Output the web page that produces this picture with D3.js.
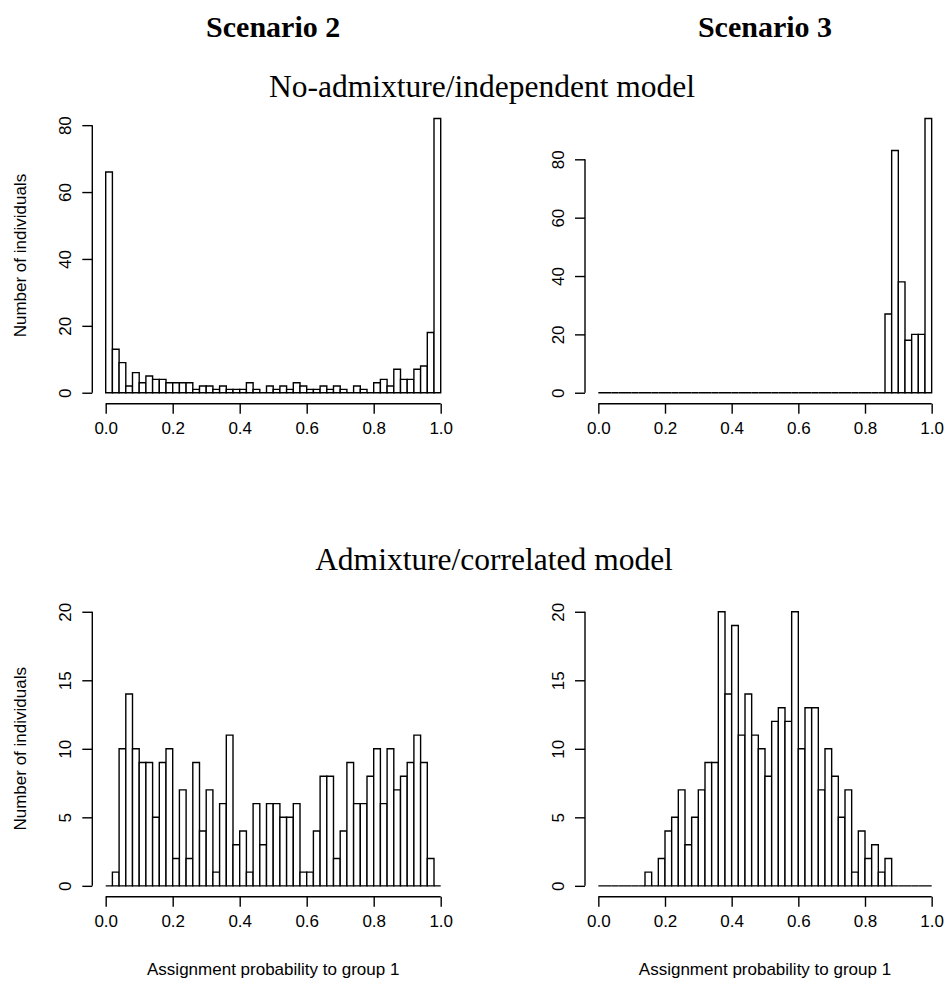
<!DOCTYPE html>
<html>
<head>
  <meta charset="UTF-8">
  <style>
    body { margin: 0; background: #fff; }
    svg { display: block; }
  </style>
</head>
<body>
<svg></svg>
<script src="https://d3js.org/d3.v7.min.js"></script>
<script>

let width = 948, height = 985;

// histogram counts, 50 bins of width 0.02 over [0, 1]
const s2_noadmix = [66,13,9,2,6,3,5,4,4,3, 3,3,3,1,2,2,1,2,1,1, 1,3,1,0,2,1,2,1,3,2,
                    1,1,2,1,2,1,0,2,1,0, 3,4,2,7,4,4,7,8,18,82];
const s3_noadmix = [0,0,0,0,0,0,0,0,0,0, 0,0,0,0,0,0,0,0,0,0, 0,0,0,0,0,0,0,0,0,0,
                    0,0,0,0,0,0,0,0,0,0, 0,0,0,27,83,38,18,20,20,94];
const s2_admix   = [0,1,10,14,10,9,9,5,9,10, 2,7,2,9,4,7,1,6,11,3, 4,1,6,3,6,6,5,5,6,1,
                    1,4,8,8,2,4,9,6,6,8, 10,6,10,7,8,9,11,9,2,0];
const s3_admix   = [0,0,0,0,0,0,0,1,0,2, 4,5,7,3,5,7,9,9,20,14, 19,11,14,11,10,8,12,13,12,20,
                    10,13,13,7,10,8,5,7,1,4, 2,3,1,2,0,0,0,0,0,0];

const xTicks = [0, 0.2, 0.4, 0.6, 0.8, 1.0];
const yTicksTop = [0, 20, 40, 60, 80];
const yTicksBottom = [0, 5, 10, 15, 20];

const colTitles = ["Scenario 2", "Scenario 3"];
const rowTitles = ["No-admixture/independent model", "Admixture/correlated model"];
const yLabel = "Number of individuals";
const xLabel = "Assignment probability to group 1";

const binWidth = 0.02;

let svg = d3.select("svg")
    .attr("width", width)
    .attr("height", height)
    .attr("viewBox", "0 0 " + width + " " + height);

const cols = [[92.3, 454.1], [585, 945]];
const rows = [[107.5, 403.7], [600.8, 896.8]];

const panels = [
  { col: 0, row: 0, counts: s2_noadmix, ymax: d3.max(s2_noadmix), ticks: yTicksTop },
  { col: 1, row: 0, counts: s3_noadmix, ymax: d3.max(s3_noadmix), ticks: yTicksTop },
  { col: 0, row: 1, counts: s2_admix, ymax: 20, ticks: yTicksBottom },
  { col: 1, row: 1, counts: s3_admix, ymax: 20, ticks: yTicksBottom }
];

const sans = "'Liberation Sans', Arial, sans-serif";
const serif = "'Liberation Serif', 'Times New Roman', serif";
const fs = 17;

panels.forEach(function(p, i) {
  let [left, right] = cols[p.col];
  let [top, bottom] = rows[p.row];

  // R-style 4% padding on both axes
  let x = d3.scaleLinear().domain([-0.04, 1.04]).range([left, right]);
  let y = d3.scaleLinear().domain([-0.04 * p.ymax, 1.04 * p.ymax]).range([bottom, top]);

  svg.append("clipPath").attr("id", "clip" + i)
    .append("rect")
    .attr("x", left).attr("y", top)
    .attr("width", right - left).attr("height", bottom - top);

  // bars as outlined paths so that empty bins still show as a flat line
  let g = svg.append("g").attr("clip-path", "url(#clip" + i + ")");
  g.selectAll("path")
    .data(p.counts)
    .enter()
    .append("path")
    .attr("d", function(d, k) {
      let x0 = x(k * binWidth), x1 = x((k + 1) * binWidth);
      return "M" + x0 + "," + y(0) + "V" + y(d) + "H" + x1 + "V" + y(0) + "Z";
    })
    .attr("fill", "white")
    .attr("stroke", "black")
    .attr("stroke-width", 1.4);

  // x axis
  let xa = svg.append("g")
    .attr("transform", "translate(0," + bottom + ")")
    .call(d3.axisBottom(x).tickValues(xTicks).tickFormat(d3.format(".1f"))
      .tickSize(10).tickPadding(8).tickSizeOuter(0));
  xa.select(".domain").attr("d", "M" + x(0) + ",0H" + x(1)).attr("stroke-width", 1.4);
  xa.selectAll(".tick line").attr("stroke-width", 1.4);
  xa.selectAll("text").attr("font-family", sans).attr("font-size", fs).attr("fill", "black");

  // y axis, labels parallel to axis
  let ya = svg.append("g")
    .attr("transform", "translate(" + left + ",0)")
    .call(d3.axisLeft(y).tickValues(p.ticks).tickSize(10).tickSizeOuter(0));
  ya.select(".domain")
    .attr("d", "M0," + y(p.ticks[0]) + "V" + y(p.ticks[p.ticks.length - 1]))
    .attr("stroke-width", 1.4);
  ya.selectAll(".tick line").attr("stroke-width", 1.4);
  ya.selectAll("text")
    .attr("font-family", sans).attr("font-size", fs).attr("fill", "black")
    .attr("x", null).attr("dy", null)
    .attr("text-anchor", "middle")
    .attr("transform", "translate(-21,0) rotate(-90)");

  if (p.col == 0) {
    svg.append("text")
      .attr("transform", "translate(" + (left - 66) + "," + ((top + bottom) / 2) + ") rotate(-90)")
      .attr("text-anchor", "middle")
      .attr("font-family", sans).attr("font-size", fs)
      .text(yLabel);
  }
  if (p.row == 1) {
    svg.append("text")
      .attr("x", x(0.5)).attr("y", bottom + 78)
      .attr("text-anchor", "middle")
      .attr("font-family", sans).attr("font-size", fs)
      .text(xLabel);
  }
  // column heading over the top row, centred on the panel
  if (p.row == 0) {
    svg.append("text")
      .attr("x", x(0.5)).attr("y", 37)
      .attr("text-anchor", "middle")
      .attr("font-family", serif).attr("font-weight", "bold").attr("font-size", 30)
      .text(colTitles[p.col]);
  }
});

// model headings
svg.selectAll(".rowtitle")
  .data(rowTitles)
  .enter()
  .append("text")
  .attr("class", "rowtitle")
  .attr("x", (d, i) => [482, 494][i])
  .attr("y", (d, i) => [96.5, 569.5][i])
  .attr("text-anchor", "middle")
  .attr("font-family", serif).attr("font-size", 31.5)
  .text(d => d);

</script>
</body>
</html>
